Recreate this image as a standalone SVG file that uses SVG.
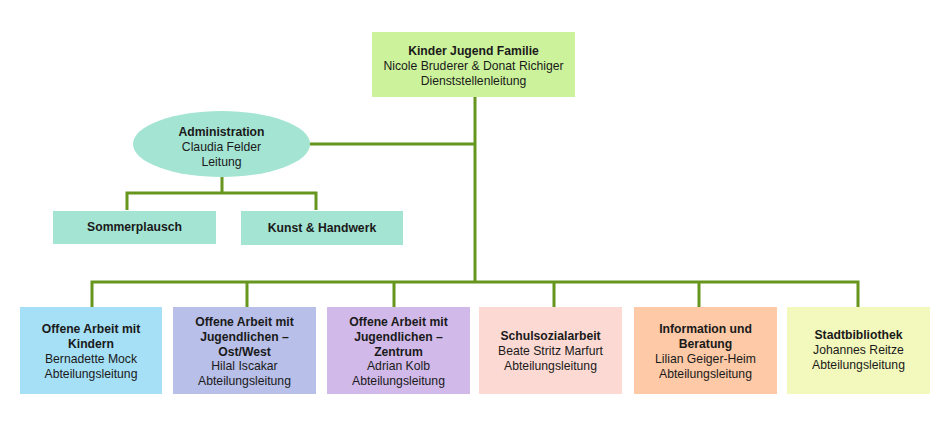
<svg xmlns="http://www.w3.org/2000/svg" width="940" height="432" viewBox="0 0 940 432">
<style>
text{font-family:"Liberation Sans",Arial,sans-serif;font-size:12.2px;fill:#1a1a1a;text-anchor:middle}
.b{font-weight:bold}
.c{fill:none;stroke:#66961e;stroke-width:3}
</style>
<rect width="940" height="432" fill="#ffffff"/>
<g id="connectors">
<path class="c" d="M475 97V281M308 144H475"/>
<path class="c" d="M222 177V193M127 210V193H316V210"/>
<path class="c" d="M92 307V282H858V307M247 282V307M394 282V307M554 282V307M699 282V307"/>
</g>
<g id="n-kjf">
<rect x="372" y="32" width="203" height="65" fill="#ccf39c"/>
<text x="473.5" y="55" class="b">Kinder Jugend Familie</text>
<text x="473.5" y="70">Nicole Bruderer &amp; Donat Richiger</text>
<text x="473.5" y="85">Dienststellenleitung</text>
</g>
<g id="n-admin">
<ellipse cx="221.5" cy="144" rx="88.5" ry="33" fill="#a4e4d3"/>
<text x="221.5" y="136" class="b">Administration</text>
<text x="221.5" y="151">Claudia Felder</text>
<text x="221.5" y="166">Leitung</text>
</g>
<g id="n-sommer">
<rect x="53" y="211" width="163" height="33" fill="#a4e4d3"/>
<text x="134.5" y="231" class="b">Sommerplausch</text>
</g>
<g id="n-kunst">
<rect x="241" y="211" width="162" height="34" fill="#a4e4d3"/>
<text x="322" y="232" class="b">Kunst &amp; Handwerk</text>
</g>
<g id="n-oak">
<rect x="20" y="307" width="142" height="87" fill="#a5e0f6"/>
<text x="91" y="333" class="b">Offene Arbeit mit</text>
<text x="91" y="348" class="b">Kindern</text>
<text x="91" y="363">Bernadette Mock</text>
<text x="91" y="378">Abteilungsleitung</text>
</g>
<g id="n-oajo">
<rect x="173" y="307" width="143" height="87" fill="#b8bfe8"/>
<text x="244.5" y="326" class="b">Offene Arbeit mit</text>
<text x="244.5" y="341" class="b">Jugendlichen –</text>
<text x="244.5" y="356" class="b">Ost/West</text>
<text x="244.5" y="370">Hilal Iscakar</text>
<text x="244.5" y="385">Abteilungsleitung</text>
</g>
<g id="n-oajz">
<rect x="327" y="307" width="143" height="87" fill="#d1b9e9"/>
<text x="398.5" y="326" class="b">Offene Arbeit mit</text>
<text x="398.5" y="341" class="b">Jugendlichen –</text>
<text x="398.5" y="356" class="b">Zentrum</text>
<text x="398.5" y="370">Adrian Kolb</text>
<text x="398.5" y="385">Abteilungsleitung</text>
</g>
<g id="n-ssa">
<rect x="479" y="307" width="143" height="87" fill="#fcd9d3"/>
<text x="550.5" y="340" class="b">Schulsozialarbeit</text>
<text x="550.5" y="355">Beate Stritz Marfurt</text>
<text x="550.5" y="370">Abteilungsleitung</text>
</g>
<g id="n-iub">
<rect x="634" y="307" width="143" height="87" fill="#fdc9a6"/>
<text x="705.5" y="333" class="b">Information und</text>
<text x="705.5" y="348" class="b">Beratung</text>
<text x="705.5" y="363">Lilian Geiger-Heim</text>
<text x="705.5" y="378">Abteilungsleitung</text>
</g>
<g id="n-sb">
<rect x="787" y="307" width="143" height="87" fill="#f3f8bc"/>
<text x="858.5" y="339" class="b">Stadtbibliothek</text>
<text x="858.5" y="354">Johannes Reitze</text>
<text x="858.5" y="369">Abteilungsleitung</text>
</g>
</svg>
